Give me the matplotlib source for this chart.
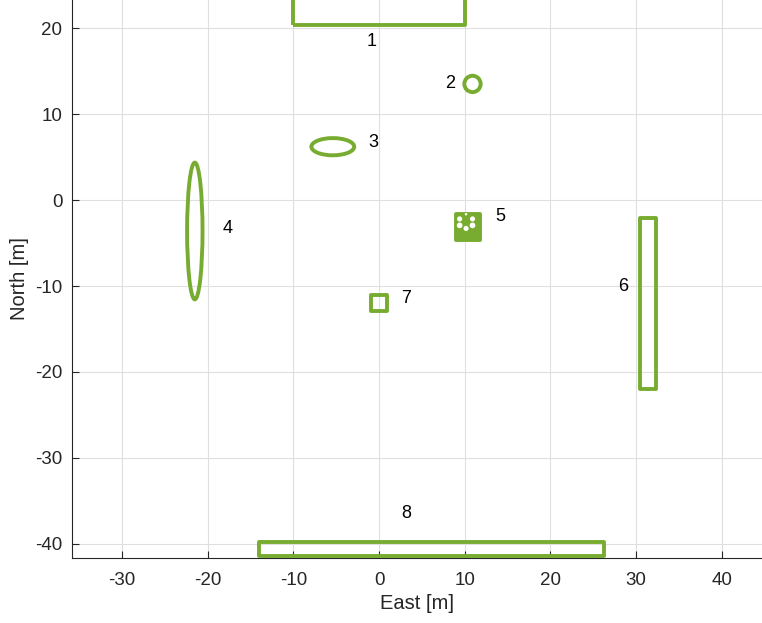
import matplotlib
matplotlib.use("Agg")
import matplotlib.pyplot as plt
from matplotlib.patches import Rectangle, Ellipse, Circle

# Obstacle map (East / North in metres)
rect_ids = [1, 6, 7, 8]
rect_x0 = [-10.0, 30.4, -1.0, -14.0]
rect_y0 = [20.4, -22.0, -12.9, -41.4]
rect_w = [20.0, 1.9, 1.9, 40.2]
rect_h = [6.0, 19.9, 1.8, 1.65]

ell_ids = [2, 3, 4]
ell_cx = [10.9, -5.4, -21.5]
ell_cy = [13.5, 6.2, -3.6]
ell_w = [1.9, 5.0, 1.8]
ell_h = [1.9, 2.0, 15.9]

# Object 5: a tight cluster of small parts inside a square frame
cluster_x0, cluster_y0, cluster_w, cluster_h = 9.0, -4.6, 2.8, 3.0
cluster_cx = [9.4, 10.15, 10.9, 9.4, 10.15, 10.9]
cluster_cy = [-2.2, -1.65, -2.2, -2.95, -3.3, -2.95]
cluster_r = [0.3, 0.15, 0.3, 0.33, 0.3, 0.33]

label_ids = ["1", "2", "3", "4", "5", "6", "7", "8"]
label_x = [-0.9, 8.3, -0.7, -17.7, 14.1, 28.5, 3.2, 3.2]
label_y = [18.4, 13.6, 6.7, -3.3, -1.9, -10.1, -11.4, -36.4]

xticks = [-30, -20, -10, 0, 10, 20, 30, 40]
yticks = [-40, -30, -20, -10, 0, 10, 20]

green = "#77AC30"
axcol = "#262626"
lw = 2.8

plt.rcParams["font.family"] = ["Liberation Sans", "DejaVu Sans"]
plt.rcParams["axes.unicode_minus"] = False

fig = plt.figure(figsize=(7.62, 6.23), dpi=100)
ax = fig.add_axes([72 / 762, 1 - 558 / 623, 1 - 72 / 762, 558 / 623])

for x0, y0, w, h in zip(rect_x0, rect_y0, rect_w, rect_h):
    ax.add_patch(Rectangle((x0, y0), w, h, fill=False, ec=green, lw=lw,
                           joinstyle="round", zorder=3, clip_on=False))

for cx, cy, w, h in zip(ell_cx, ell_cy, ell_w, ell_h):
    ax.add_patch(Ellipse((cx, cy), w, h, fill=False, ec=green, lw=lw, zorder=3))

ax.add_patch(Rectangle((cluster_x0, cluster_y0), cluster_w, cluster_h,
                       fc=green, ec=green, lw=lw, joinstyle="round", zorder=3))
for cx, cy, r in zip(cluster_cx, cluster_cy, cluster_r):
    ax.add_patch(Circle((cx, cy), r, fc="white", ec="none", zorder=4))

for t, x, y in zip(label_ids, label_x, label_y):
    ax.text(x, y, t, fontsize=13, color="black", ha="center", va="center", zorder=5)

ax.set_xlim(-35.83, 44.68)
ax.set_ylim(-41.63, 23.26)
ax.set_xticks(xticks)
ax.set_yticks(yticks)
ax.grid(True, color="#dfdfdf", lw=0.8, zorder=0)
ax.set_axisbelow(True)

for s in ("top", "right"):
    ax.spines[s].set_visible(False)
for s in ("left", "bottom"):
    ax.spines[s].set_color(axcol)
    ax.spines[s].set_linewidth(0.8)
    ax.spines[s].set_zorder(2)

ax.tick_params(direction="in", length=5, width=0.8, colors=axcol,
               labelsize=13.5, pad=7)
ax.tick_params(axis="x", pad=10)
ax.set_xlabel("East [m]", fontsize=14.5, color=axcol, labelpad=4)
ax.set_ylabel("North [m]", fontsize=14.5, color=axcol, labelpad=4)

fig.savefig("out.png", dpi=100)
